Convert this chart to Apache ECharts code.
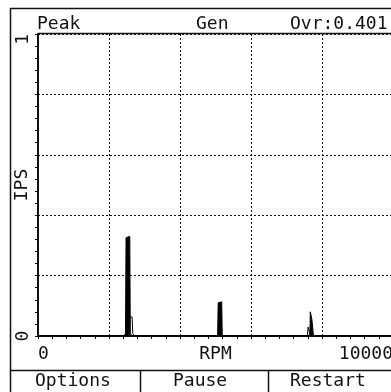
<!DOCTYPE html>
<html><head><meta charset="utf-8">
<script src="https://cdn.jsdelivr.net/npm/echarts@6/dist/echarts.min.js"></script>
<style>html,body{margin:0;padding:0;background:#fff}#c{width:391px;height:392px}</style>
</head><body><div id="c"></div>
<script>
// Filled spectrum trace
const rpmA = [0, 2420, 2465, 2480, 2585, 2600, 2650, 5060, 5075, 5175, 5190, 7660, 7670, 7705, 7715, 7745, 7760, 10000];
const ipsA = [0, 0, 0.008, 0.325, 0.33, 0.008, 0, 0, 0.11, 0.113, 0, 0, 0.08, 0.08, 0.055, 0.055, 0, 0];
// Outline (second) trace
const rpmB = [0, 2460, 2510, 2540, 2650, 2670, 2720, 7590, 7610, 7655, 7675, 10000];
const ipsB = [0, 0, 0.008, 0.063, 0.063, 0.008, 0, 0, 0.03, 0.03, 0, 0];
const xTickLabels = ['0', '10000'];
const yTickLabels = ['0', '1'];
const headerTexts = ['Peak', 'Gen', 'Ovr:0.401'];
const buttons = ['Options', 'Pause', 'Restart'];

const FONT = 'DejaVu Sans Mono';
const chart = echarts.init(document.getElementById('c'), null, {renderer: 'canvas'});
const ink = '#111';
chart.setOption({
  backgroundColor: '#fff',
  animation: false,
  grid: {left: 38, right: -2, top: 34, bottom: 56, containLabel: false, outerBoundsMode: 'none'},
  xAxis: {
    type: 'value', min: 0, max: 10000, interval: 2000,
    name: 'RPM', nameLocation: 'middle', nameGap: 9, nameMoveOverlap: false,
    nameTextStyle: {fontFamily: FONT, fontSize: 18, color: ink, verticalAlign: 'top'},
    axisLine: {lineStyle: {color: ink, width: 2}},
    axisTick: {show: true, length: 3, lineStyle: {color: ink}},
    minorTick: {show: true, splitNumber: 5, length: 3, lineStyle: {color: ink}},
    splitLine: {show: true, lineStyle: {color: ink, type: [2, 2], width: 1}},
    axisLabel: {
      fontFamily: FONT, fontSize: 18, color: ink, margin: 9,
      alignMinLabel: 'left', alignMaxLabel: 'right',
      formatter: v => v === 0 ? xTickLabels[0] : (v === 10000 ? xTickLabels[1] : '')
    }
  },
  yAxis: {
    type: 'value', min: 0, max: 1, interval: 0.2,
    name: 'IPS', nameLocation: 'middle', nameGap: 7, nameRotate: 90, nameMoveOverlap: false,
    nameTextStyle: {fontFamily: FONT, fontSize: 18, color: ink},
    axisLine: {show: true, lineStyle: {color: ink, width: 2}},
    axisTick: {show: true, length: 3, lineStyle: {color: ink}},
    minorTick: {show: true, splitNumber: 5, length: 3, lineStyle: {color: ink}},
    splitLine: {show: true, lineStyle: {color: ink, type: [2, 2], width: 1}},
    axisLabel: {
      fontFamily: FONT, fontSize: 18, color: ink, margin: 6, rotate: 90,
      alignMaxLabel: 'right',
      formatter: v => v === 0 ? yTickLabels[0] : (v === 1 ? yTickLabels[1] : '')
    }
  },
  series: [
    {
      type: 'line', symbol: 'none', z: 3,
      data: rpmA.map((r, i) => [r, ipsA[i]]),
      lineStyle: {color: '#000', width: 1},
      areaStyle: {color: '#000', opacity: 1}
    },
    {
      type: 'line', symbol: 'none', z: 4,
      data: rpmB.map((r, i) => [r, ipsB[i]]),
      lineStyle: {color: '#000', width: 1}
    }
  ],
  graphic: [
    {type: 'line', shape: {x1: 10.5, y1: 8, x2: 10.5, y2: 392}, style: {stroke: ink, lineWidth: 1.5}},
    {type: 'line', shape: {x1: 10, y1: 8.5, x2: 391, y2: 8.5}, style: {stroke: ink, lineWidth: 1.5}},
    {type: 'line', shape: {x1: 38, y1: 33.5, x2: 391, y2: 33.5}, style: {stroke: ink, lineWidth: 1.5}},
    {type: 'line', shape: {x1: 10, y1: 370.5, x2: 391, y2: 370.5}, style: {stroke: ink, lineWidth: 1.5}},
    {type: 'line', shape: {x1: 140.5, y1: 370, x2: 140.5, y2: 392}, style: {stroke: ink, lineWidth: 1.5}},
    {type: 'line', shape: {x1: 268.5, y1: 370, x2: 268.5, y2: 392}, style: {stroke: ink, lineWidth: 1.5}},
    {type: 'text', left: 37, top: 15, style: {text: headerTexts[0], font: '18px "' + FONT + '"', fill: ink}},
    {type: 'text', left: 196, top: 15, style: {text: headerTexts[1], font: '18px "' + FONT + '"', fill: ink}},
    {type: 'text', left: 290, top: 15, style: {text: headerTexts[2], font: '18px "' + FONT + '"', fill: ink}},
    {type: 'text', left: 35, top: 372, style: {text: buttons[0], font: '18px "' + FONT + '"', fill: ink}},
    {type: 'text', left: 173, top: 372, style: {text: buttons[1], font: '18px "' + FONT + '"', fill: ink}},
    {type: 'text', left: 290, top: 372, style: {text: buttons[2], font: '18px "' + FONT + '"', fill: ink}}
  ]
});
</script></body></html>
